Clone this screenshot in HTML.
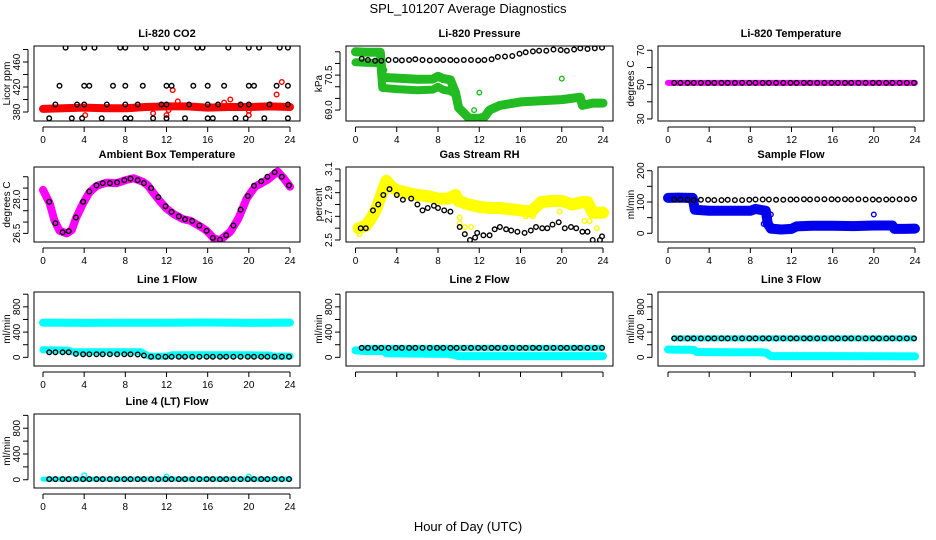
<!DOCTYPE html>
<html><head><meta charset="utf-8">
<style>
html,body{margin:0;padding:0;background:#fff;}
svg{display:block;font-family:"Liberation Sans",Arial,sans-serif;}
</style></head>
<body>
<svg id="chart" width="936" height="540" viewBox="0 0 936 540">
<text x="468" y="13" text-anchor="middle" font-size="13">SPL_101207  Average Diagnostics</text>
<text x="468" y="531" text-anchor="middle" font-size="13">Hour of Day (UTC)</text>
</svg>
<script>
// ---------- shared x arrays ----------
const xTicks = [0,4,8,12,16,20,24];
const bh = [0.6,1.2,1.9,2.5,3.2,3.9,4.5,5.2,5.8,6.5,7.2,7.9,8.5,9.2,9.8,10.5,11.2,11.9,12.5,13.2,13.8,14.5,15.2,15.9,16.5,17.2,17.8,18.5,19.2,19.9,20.5,21.2,21.8,22.5,23.2,23.9];

// ---------- Li-820 CO2 ----------
const co2BlackX = [2.2,4,5,7.5,8,10,12,13,15,15.5,18,20,21,23,23.8, 1.6,4,4.5,6.8,8,9.7,12,12.5,14.6,16,17.6,20,20.5,22.7,23.8, 1.2,3.3,4,6.2,8,9.2,11.5,12,14.2,16,17,19.2,20,22,23.8, 0.6,2.8,3.8,5.7,8,8.5,10.7,12,13.8,16,16.5,18.7,19.7,21.5,23.8];
const co2BlackY = [483,483,483,483,483,483,483,483,483,483,483,483,483,483,483, 422,422,422,422,422,422,422,422,422,422,422,422,422,422,422, 392,392,392,392,392,392,392,392,392,392,392,392,392,392,392, 370,370,370,370,370,370,370,370,370,370,370,370,370,370,370];
const co2BandX = [0,2,4,6,8,10,12,14,16,18,20,22,24];
const co2BandY = [385,386,387,386,386,388,389,389,387,388,388,389,388];
const co2OutX = [4.1,10.7,12,12.2,12.6,13.1,17.6,18.2,20,20,22.1,22.7,23.2];
const co2OutY = [375,378,375,383,415,397,395,400,375,382,392,408,428];

// ---------- Li-820 Pressure ----------
const presBlackY = [71.2,71.15,71.12,71.12,71.15,71.15,71.13,71.15,71.18,71.15,71.13,71.15,71.15,71.15,71.13,71.15,71.15,71.13,71.15,71.18,71.28,71.3,71.32,71.42,71.48,71.52,71.55,71.55,71.6,71.58,71.55,71.6,71.65,71.62,71.65,71.68];
const presAX = [0,1,2,2.4,2.6,4,6,7.5,8,8.5,9.2,9.7,10,11,12,12.5,13,13.5,14,16,18,20,21.8,22,23,24];
const presAY = [71.5,71.48,71.48,71.48,70.4,70.37,70.32,70.33,70.45,70.35,70.3,69.75,69.1,68.65,68.65,68.7,69.0,69.1,69.2,69.35,69.4,69.45,69.55,69.2,69.3,69.3];
const presBX = [0,1,2,2.4,2.6,4,6,7.5,8,8.5,9.2,9.6];
const presBY = [71.05,71.03,71.02,71.02,69.95,69.9,69.85,69.88,70.0,69.87,69.82,69.7];
const presOutX = [2.8,9.7,11.5,12,20];
const presOutY = [70.72,69.6,69.0,69.75,70.35];

// ---------- Li-820 Temperature ----------
const tempY = [51,51,51,51,51,51,51,51,51,51,51,51,51,51,51,51,51,51,51,51,51,51,51,51,51,51,51,51,51,51,51,51,51,51,51,51];
const tempBandX = [0,24];
const tempBandY = [51,51];

// ---------- Ambient Box Temperature ----------
const ambX = [0,0.65,1.1,1.6,2.3,2.8,3.2,3.9,4.5,5.2,6.2,7.1,8.1,8.8,9.7,10.2,10.7,11.4,12,12.7,13.6,14.3,15.3,15.9,16.6,17.2,18.2,19,19.8,20.6,21.8,22.8,23.4,24];
const ambY = [28.42,27.83,27.09,26.62,26.5,26.65,27.16,27.83,28.3,28.59,28.74,28.71,28.86,28.93,28.78,28.61,28.3,27.9,27.6,27.35,27.13,27.06,26.8,26.62,26.28,26.2,26.57,27.16,28.05,28.56,28.86,29.23,28.93,28.56];
const ambBlackX = [0.6,1.2,1.9,2.5,3.2,3.9,4.5,5.2,5.8,6.5,7.2,7.9,8.5,9.2,9.8,10.5,11.2,11.9,12.5,13.2,13.8,14.5,15.2,15.9,16.5,17.2,17.8,18.5,19.2,19.9,20.5,21.2,21.8,22.5,23.2,23.9];
const ambBlackY = [27.9,26.95,26.55,26.6,27.2,27.9,28.35,28.62,28.72,28.72,28.75,28.85,28.92,28.85,28.72,28.5,28.1,27.7,27.45,27.25,27.12,27.05,26.85,26.62,26.3,26.22,26.42,26.85,27.55,28.15,28.6,28.8,29.0,29.2,29.0,28.62];

// ---------- Gas Stream RH ----------
const rhBandX = [0.3,1,1.5,2,2.5,3,3.5,4,5,6,7,8,9,9.7,10,11,12,13,14,15,16,17,17.5,18,19,20,21,22,22.5,23,24];
const rhBandY = [2.6,2.62,2.68,2.76,2.88,3.0,2.95,2.92,2.9,2.88,2.87,2.85,2.85,2.88,2.83,2.8,2.78,2.77,2.77,2.76,2.75,2.74,2.78,2.82,2.83,2.83,2.8,2.82,2.82,2.73,2.73];
const rhBlackX = [0.5,1,1.7,2.2,2.7,3.3,4,4.6,5.4,6,6.5,7,7.6,8,8.6,9.2,10.1,10.6,11.1,11.6,11.8,12.4,13,13.5,14,14.6,15.1,15.7,16.4,17,17.5,18.1,18.6,19.1,19.7,20.3,20.9,21.4,22,22.5,23,23.7,23.9];
const rhBlackY = [2.6,2.6,2.75,2.8,2.88,2.93,2.88,2.84,2.85,2.8,2.75,2.77,2.79,2.77,2.75,2.74,2.61,2.55,2.5,2.52,2.56,2.54,2.54,2.59,2.61,2.59,2.58,2.57,2.56,2.58,2.61,2.6,2.6,2.63,2.65,2.6,2.61,2.6,2.57,2.57,2.5,2.5,2.53];
const rhOutX = [10.1,10.1,10.6,11.2,16.5,17.2,19.8,22.2,22.7,23.4,0.4];
const rhOutY = [2.69,2.64,2.61,2.61,2.7,2.7,2.74,2.66,2.66,2.6,2.55];

// ---------- Sample Flow ----------
const sfBandX = [0,1,2,2.4,2.6,4,6,8,8.5,9.5,9.7,10,11,12,12.5,14,16,18,20,21.8,22,23,24];
const sfBandY = [113,114,113,113,75,72,72,72,78,72,30,15,12,14,22,24,24,23,25,25,14,14,15];
const sfBlackY = [108,108,107,106,107,107,106,106,107,106,106,107,108,108,108,107,107,108,108,109,108,109,109,109,108,109,108,109,108,108,107,108,108,109,109,110];
const sfOutX = [9.3,10,20];
const sfOutY = [30,60,60];

// ---------- Line 1 Flow ----------
const l1TopX = [0,4,8,12,16,20,24];
const l1TopY = [550,545,548,548,552,545,550];
const l1LowX = [0,1,2,2.5,2.8,6,9.5,9.8,10.3,12,12.5,16,20,22,22.3,24];
const l1LowY = [120,118,115,115,90,90,88,60,20,20,40,40,40,38,20,20];
const l1BlackY = [80,80,80,80,55,50,50,50,50,50,50,50,48,45,30,10,10,10,10,10,10,10,10,10,10,10,10,10,10,10,10,10,10,10,10,10];

// ---------- Line 2 Flow ----------
const l2LowX = [0,1,2,2.8,3,6,9,9.5,10,16,24];
const l2LowY = [110,100,100,100,65,60,55,40,20,20,20];
const l2BlackY = [150,150,150,150,150,150,150,150,150,150,150,150,150,150,150,150,150,150,150,150,150,150,150,150,150,150,150,150,150,150,150,150,150,150,150,150];

// ---------- Line 3 Flow ----------
const l3LowX = [0,1,2,2.5,2.8,6,9,9.5,10,16,24];
const l3LowY = [125,120,120,118,85,80,80,75,20,20,15];
const l3BlackY = [300,300,300,300,300,300,300,300,300,300,300,300,300,300,300,300,300,300,300,300,300,300,300,300,300,300,300,300,300,300,300,300,300,300,300,300];

// ---------- Line 4 (LT) Flow ----------
const l4BandX = [0,24];
const l4BandY = [10,10];
const l4BlackY = [10,10,10,10,10,10,10,10,10,10,10,10,10,10,10,10,10,10,10,10,10,10,10,10,10,10,10,10,10,10,10,10,10,10,10,10];
const l4OutX = [4,12,20];
const l4OutY = [70,50,50];

const flowTicks = [0,200,400,600,800,1000];
const flowLabels = ['0','','400','','800',''];

// ---------- layout ----------
const NS = 'http://www.w3.org/2000/svg';
const svg = document.getElementById('chart');
const cols = [{l:34,r:300,x0:43,x24:290},{l:346,r:613,x0:355.5,x24:603},{l:658,r:924,x0:668,x24:915}];
const rows = [{t:46,b:121},{t:167,b:242},{t:292,b:366},{t:414,b:488}];

function mk(tag, attrs, parent){
  const e = document.createElementNS(NS, tag);
  for (const k in attrs) e.setAttribute(k, attrs[k]);
  (parent||svg).appendChild(e);
  return e;
}

function panel(p){
  const c = cols[p.col], r = rows[p.row];
  const g = mk('g', {});
  
  
  const xs = h => c.x0 + (c.x24 - c.x0) * h / 24;
  const ys = v => r.b - (v - p.ymin) / (p.ymax - p.ymin) * (r.b - r.t);
  const cx = (c.l + c.r) / 2;
  const title = mk('text', {x:cx, y:r.t-9, 'text-anchor':'middle', 'font-size':11, 'font-weight':'bold'}, g);
  title.textContent = p.title;
  
  
  const clipId = 'clip' + p.col + p.row;
  const cp = mk('clipPath', {id: clipId}, g);
  mk('rect', {x:c.l, y:r.t, width:c.r-c.l, height:r.b-r.t}, cp);
  const dg = mk('g', {'clip-path':'url(#'+clipId+')'}, g);
  p.layers.forEach(L => {
    if (L.type === 'band') {
      const pts = L.x.map((h,i) => xs(h).toFixed(1)+','+ys(L.y[i]).toFixed(1)).join(' ');
      const pl = mk('polyline', {points:pts, fill:'none', stroke:L.color, 'stroke-width':L.w, 'stroke-linejoin':'round', 'stroke-linecap':'round'}, dg);
      
      
    } else {
      L.x.forEach((h,i) => {
        const ci = mk('circle', {cx:xs(h).toFixed(1), cy:ys(L.y[i]).toFixed(1), r:L.r||2.3, fill:'none', stroke:L.color, 'stroke-width':L.sw||1.4}, dg);
        
        
      });
    }
  });
  mk('rect', {x:c.l, y:r.t, width:c.r-c.l, height:r.b-r.t, fill:'none', stroke:'#000', 'stroke-width':1}, g);
  const xa = mk('g', {}, g);
  
  
  mk('line', {x1:xs(0), x2:xs(24), y1:r.b+6, y2:r.b+6, stroke:'#000'}, xa);
  xTicks.forEach(t => {
    mk('line', {x1:xs(t), x2:xs(t), y1:r.b+6, y2:r.b+11, stroke:'#000'}, xa);
    if (p.showX) {
      const tx = mk('text', {x:xs(t), y:r.b+22, 'text-anchor':'middle', 'font-size':10}, xa);
      tx.textContent = t;
      
      
    }
  });
  const ya = mk('g', {}, g);
  
  
  const yt = p.yticks;
  mk('line', {x1:c.l-6, x2:c.l-6, y1:ys(yt[0]), y2:ys(yt[yt.length-1]), stroke:'#000'}, ya);
  yt.forEach((t,i) => {
    mk('line', {x1:c.l-11, x2:c.l-6, y1:ys(t), y2:ys(t), stroke:'#000'}, ya);
    if (p.ylabels[i] !== '') {
      const y = ys(t);
      const tx = mk('text', {x:c.l-14, y:y, 'text-anchor':'middle', 'font-size':10, transform:'rotate(-90 '+(c.l-14)+' '+y+')'}, ya);
      tx.textContent = p.ylabels[i];
      
      
    }
  });
  const ly = (r.t + r.b) / 2, lx = c.l - 24;
  const yl = mk('text', {x:lx, y:ly, 'text-anchor':'middle', 'font-size':10, transform:'rotate(-90 '+lx+' '+ly+')'}, g);
  yl.textContent = p.ylabel;
  
  
}

panel({name:'co2-panel', title:'Li-820 CO2', col:0, row:0, ymin:365.6, ymax:485.6, yticks:[380,400,420,440,460,480], ylabels:['380','','420','','460',''], ylabel:'Licor ppm', showX:true,
  layers:[{type:'band', name:'co2-band', x:co2BandX, y:co2BandY, color:'#ff0000', w:8},
          {type:'pts', name:'co2-outlier', x:co2OutX, y:co2OutY, color:'#ff0000'},
          {type:'pts', name:'co2-reference-point', x:co2BlackX, y:co2BlackY, color:'#000'}]});
panel({name:'pressure-panel', title:'Li-820 Pressure', col:1, row:0, ymin:68.53, ymax:71.75, yticks:[69.0,69.5,70.0,70.5,71.0,71.5], ylabels:['69.0','','','70.5','',''], ylabel:'kPa', showX:true,
  layers:[{type:'band', name:'pressure-band-a', x:presAX, y:presAY, color:'#22bb22', w:9},
          {type:'band', name:'pressure-band-b', x:presBX, y:presBY, color:'#22bb22', w:8},
          {type:'pts', name:'pressure-outlier', x:presOutX, y:presOutY, color:'#22bb22'},
          {type:'pts', name:'pressure-reference-point', x:bh, y:presBlackY, color:'#000'}]});
panel({name:'li820-temperature-panel', title:'Li-820 Temperature', col:2, row:0, ymin:28.8, ymax:72.5, yticks:[30,40,50,60,70], ylabels:['30','','50','','70'], ylabel:'degrees C', showX:true,
  layers:[{type:'band', name:'temperature-band', x:tempBandX, y:tempBandY, color:'#ff00ff', w:6},
          {type:'pts', name:'temperature-reference-point', x:bh, y:tempY, color:'#000'}]});
panel({name:'ambient-temperature-panel', title:'Ambient Box Temperature', col:0, row:1, ymin:26.12, ymax:29.43, yticks:[26.5,27.0,27.5,28.0,28.5,29.0], ylabels:['26.5','','','28.0','',''], ylabel:'degrees C', showX:true,
  layers:[{type:'band', name:'ambient-band', x:ambX, y:ambY, color:'#ff00ff', w:8},
          {type:'pts', name:'ambient-reference-point', x:ambBlackX, y:ambBlackY, color:'#000'}]});
panel({name:'rh-panel', title:'Gas Stream RH', col:1, row:1, ymin:2.483, ymax:3.117, yticks:[2.5,2.6,2.7,2.8,2.9,3.0,3.1], ylabels:['2.5','','2.7','','2.9','','3.1'], ylabel:'percent', showX:true,
  layers:[{type:'band', name:'rh-band', x:rhBandX, y:rhBandY, color:'#ffff00', w:12},
          {type:'pts', name:'rh-outlier', x:rhOutX, y:rhOutY, color:'#ffff00'},
          {type:'pts', name:'rh-reference-point', x:rhBlackX, y:rhBlackY, color:'#000'}]});
panel({name:'sample-flow-panel', title:'Sample Flow', col:2, row:1, ymin:-27.8, ymax:211.8, yticks:[0,50,100,150,200], ylabels:['0','','100','','200'], ylabel:'ml/min', showX:true,
  layers:[{type:'band', name:'sample-flow-band', x:sfBandX, y:sfBandY, color:'#0000ee', w:10},
          {type:'pts', name:'sample-flow-outlier', x:sfOutX, y:sfOutY, color:'#0000ee'},
          {type:'pts', name:'sample-flow-reference-point', x:bh, y:sfBlackY, color:'#000'}]});
panel({name:'line1-flow-panel', title:'Line 1 Flow', col:0, row:2, ymin:-137, ymax:1035, yticks:flowTicks, ylabels:flowLabels, ylabel:'ml/min', showX:true,
  layers:[{type:'band', name:'line1-top-band', x:l1TopX, y:l1TopY, color:'#00ffff', w:8},
          {type:'band', name:'line1-low-band', x:l1LowX, y:l1LowY, color:'#00ffff', w:7},
          {type:'pts', name:'line1-reference-point', x:bh, y:l1BlackY, color:'#000'}]});
panel({name:'line2-flow-panel', title:'Line 2 Flow', col:1, row:2, ymin:-137, ymax:1035, yticks:flowTicks, ylabels:flowLabels, ylabel:'ml/min', showX:false,
  layers:[{type:'band', name:'line2-low-band', x:l2LowX, y:l2LowY, color:'#00ffff', w:8},
          {type:'band', name:'line2-top-band', x:bh, y:l2BlackY, color:'#00ffff', w:6},
          {type:'pts', name:'line2-reference-point', x:bh, y:l2BlackY, color:'#000'}]});
panel({name:'line3-flow-panel', title:'Line 3 Flow', col:2, row:2, ymin:-137, ymax:1035, yticks:flowTicks, ylabels:flowLabels, ylabel:'ml/min', showX:false,
  layers:[{type:'band', name:'line3-low-band', x:l3LowX, y:l3LowY, color:'#00ffff', w:8},
          {type:'band', name:'line3-top-band', x:bh, y:l3BlackY, color:'#00ffff', w:6},
          {type:'pts', name:'line3-reference-point', x:bh, y:l3BlackY, color:'#000'}]});
panel({name:'line4-flow-panel', title:'Line 4 (LT) Flow', col:0, row:3, ymin:-128, ymax:1021, yticks:flowTicks, ylabels:flowLabels, ylabel:'ml/min', showX:true,
  layers:[{type:'band', name:'line4-band', x:l4BandX, y:l4BandY, color:'#00ffff', w:5},
          {type:'pts', name:'line4-outlier', x:l4OutX, y:l4OutY, color:'#00ffff'},
          {type:'pts', name:'line4-reference-point', x:bh, y:l4BlackY, color:'#000'}]});
</script>
</body></html>
